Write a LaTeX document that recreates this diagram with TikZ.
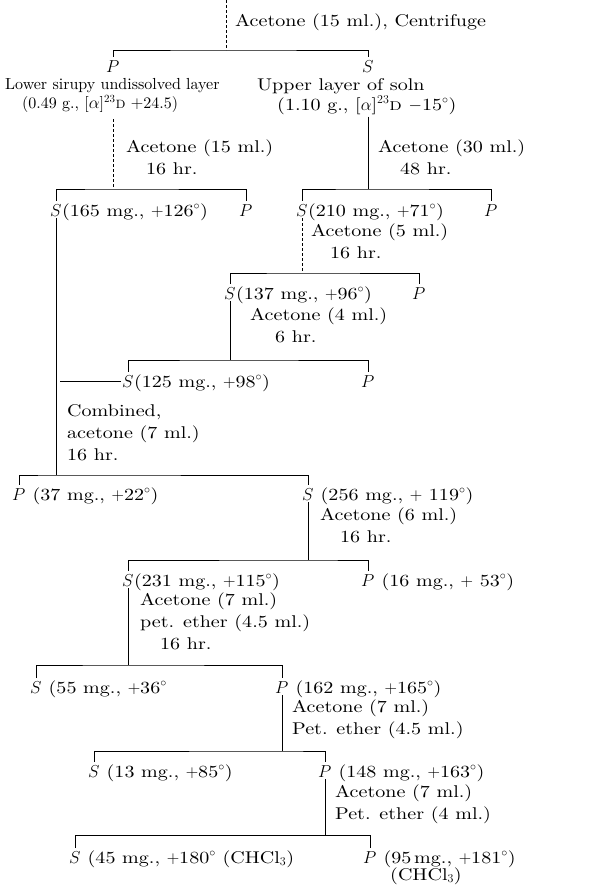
\documentclass[tikz,border=0pt]{standalone}
\usepackage{fontspec}
\setmainfont{lmroman10-regular.otf}[FakeStretch=1.18,
  ItalicFont=lmroman10-italic.otf, BoldFont=lmroman10-bold.otf,
  SmallCapsFont=lmromancaps10-regular.otf]
\newfontfamily\plainlm{lmroman10-regular.otf}[SmallCapsFont=lmromancaps10-regular.otf]
\usetikzlibrary{positioning}

\begin{document}
\begin{tikzpicture}[x=1pt,y=-1pt,
  font=\fontsize{17}{22}\selectfont,
  every node/.style={inner sep=0pt},
  ltr/.style={anchor=base west},
  rest/.style={base right=0pt of #1},
  note/.style={anchor=north west, align=left},
  link/.style={line width=0.6pt},
  faint/.style={line width=0.6pt, densely dashed}]

  \useasboundingbox (0,0) rectangle (608,886);

  \coordinate (T) at (226,0);
  \node (N0) [note] at (235,14) {Acetone (15 ml.), Centrifuge};

  \node (P1) [ltr] at (106,72) {$P$};
  \node (S1) [ltr] at (362,72) {$S$};
  \node (L1) [note, font=\plainlm\fontsize{16}{19.5}\selectfont] at (5,78)
    {Lower sirupy undissolved layer\\\hspace*{17pt}(0.49 g., [$\alpha$]$^{23}$\textsc{d} $+$24.5)};
  \node (U1) [note, font=\fontsize{17}{20}\selectfont] at (257,78)
    {Upper layer of soln\\\hspace*{20pt}(1.10 g., [$\alpha$]$^{23}$\textsc{d} $-$15$^\circ$)};

  \node (N1a) [note] at (126,140) {Acetone (15 ml.)\\\hspace*{20pt}16 hr.};
  \node (N1b) [note] at (378,140) {Acetone (30 ml.)\\\hspace*{22pt}48 hr.};

  \node (S2a) [ltr] at (50,216) {$S$};
  \node (S2at) [rest=S2a] {(165 mg., $+$126$^\circ$)};
  \node (P2a) [ltr] at (239,216) {$P$};
  \node (S2b) [ltr] at (296,216) {$S$};
  \node (S2bt) [rest=S2b] {(210 mg., $+$71$^\circ$)};
  \node (P2b) [ltr] at (484,216) {$P$};

  \node (N2) [note] at (311,224) {Acetone (5 ml.)\\\hspace*{19pt}16 hr.};

  \node (S3) [ltr] at (224,299) {$S$};
  \node (S3t) [rest=S3] {(137 mg., $+$96$^\circ$)};
  \node (P3) [ltr] at (412,299) {$P$};

  \node (N3) [note] at (250,308) {Acetone (4 ml.)\\\hspace*{25pt}6 hr.};

  \node (S4) [ltr] at (122,387) {$S$};
  \node (S4t) [rest=S4] {(125 mg., $+$98$^\circ$)};
  \node (P4) [ltr] at (361,387) {$P$};

  \node (N4) [note] at (67,404) {Combined,\\acetone (7 ml.)\\16 hr.};

  \node (P5) [ltr] at (12,500) {$P$};
  \node (P5t) [rest=P5] {\ (37 mg., $+$22$^\circ$)};
  \node (S5) [ltr] at (302,500) {$S$};
  \node (S5t) [rest=S5] {\ (256 mg., $+$ 119$^\circ$)};

  \node (N5) [note] at (320,508) {Acetone (6 ml.)\\\hspace*{20pt}16 hr.};

  \node (S6) [ltr] at (122,586) {$S$};
  \node (S6t) [rest=S6] {(231 mg., $+$115$^\circ$)};
  \node (P6) [ltr] at (361,586) {$P$};
  \node (P6t) [rest=P6] {\ (16 mg., $+$ 53$^\circ$)};

  \node (N6) [note] at (140,593) {Acetone (7 ml.)\\pet. ether (4.5 ml.)\\\hspace*{20pt}16 hr.};

  \node (S7) [ltr] at (30,693) {$S$};
  \node (S7t) [rest=S7] {\ (55 mg., $+$36$^\circ$};
  \node (P7) [ltr] at (275,693) {$P$};
  \node (P7t) [rest=P7] {\ (162 mg., $+$165$^\circ$)};

  \node (N7) [note] at (292,700) {Acetone (7 ml.)\\Pet. ether (4.5 ml.)};

  \node (S8) [ltr] at (88,777) {$S$};
  \node (S8t) [rest=S8] {\ (13 mg., $+$85$^\circ$)};
  \node (P8) [ltr] at (318,777) {$P$};
  \node (P8t) [rest=P8] {\ (148 mg., $+$163$^\circ$)};

  \node (N8) [note] at (335,785) {Acetone (7 ml.)\\Pet. ether (4 ml.)};

  \node (S9) [ltr] at (69,863) {$S$};
  \node (S9t) [rest=S9] {\ (45 mg., $+$180$^\circ$ (CHCl$_3$)};
  \node (P9) [ltr] at (363,863) {$P$};
  \node (P9t) [rest=P9] {\ (95\,mg., $+$181$^\circ$)};
  \node (P9c) [ltr] at (390,880) {(CHCl$_3$)};

  \coordinate (J0) at (226,50);
  \coordinate (J1a) at (P1.center |- 0,189);
  \coordinate (J1b) at (S1.center |- 0,189);
  \coordinate (J2) at (S2b.center |- 0,273);
  \coordinate (J3) at (S3.center |- 0,360);
  \coordinate (J4) at (S2a.center |- 0,475);
  \coordinate (J5) at (S5.center |- 0,560);
  \coordinate (J6) at (S6.center |- 0,665);
  \coordinate (J7) at (P7.center |- 0,751);
  \coordinate (J8) at (P8.center |- 0,835);

  \draw [faint] (T) -- (J0);
  \draw [link] ([yshift=3pt]P1.north) |- (J0) -| ([yshift=3pt]S1.north);

  \draw [faint] ([yshift=-6pt]J1a |- L1.south) -- (J1a);
  \draw [link] ([yshift=-2pt]J1b |- U1.south) -- (J1b);
  \draw [link] ([yshift=3pt]S2a.north) |- (J1a) -| ([yshift=3pt]P2a.north);
  \draw [link] ([yshift=3pt]S2b.north) |- (J1b) -| ([yshift=3pt]P2b.north);

  \draw [faint] ([yshift=-2pt]S2b.south) -- (J2);
  \draw [link] ([yshift=3pt]S3.north) |- (J2) -| ([yshift=3pt]P3.north);

  \draw [link] ([yshift=-2pt]S3.south) -- (J3);
  \draw [link] ([yshift=3pt]S4.north) |- (J3) -| ([yshift=3pt]P4.north);

  \draw [link] ([xshift=-1pt]S4.west) -- ([xshift=4pt]S2a.center |- S4.west);
  \draw [link] ([yshift=-2pt]S2a.south) -- (J4);
  \draw [link] ([yshift=3pt]P5.north) |- (J4) -| ([yshift=3pt]S5.north);

  \draw [link] ([yshift=-2pt]S5.south) -- (J5);
  \draw [link] ([yshift=3pt]S6.north) |- (J5) -| ([yshift=3pt]P6.north);

  \draw [link] ([yshift=-2pt]S6.south) -- (J6);
  \draw [link] ([yshift=3pt]S7.north) |- (J6) -| ([yshift=3pt]P7.north);

  \draw [link] ([yshift=-2pt]P7.south) -- (J7);
  \draw [link] ([yshift=3pt]S8.north) |- (J7) -| ([yshift=3pt]P8.north);

  \draw [link] ([yshift=-2pt]P8.south) -- (J8);
  \draw [link] ([yshift=3pt]S9.north) |- (J8) -| ([yshift=3pt]P9.north);

\end{tikzpicture}
\end{document}
